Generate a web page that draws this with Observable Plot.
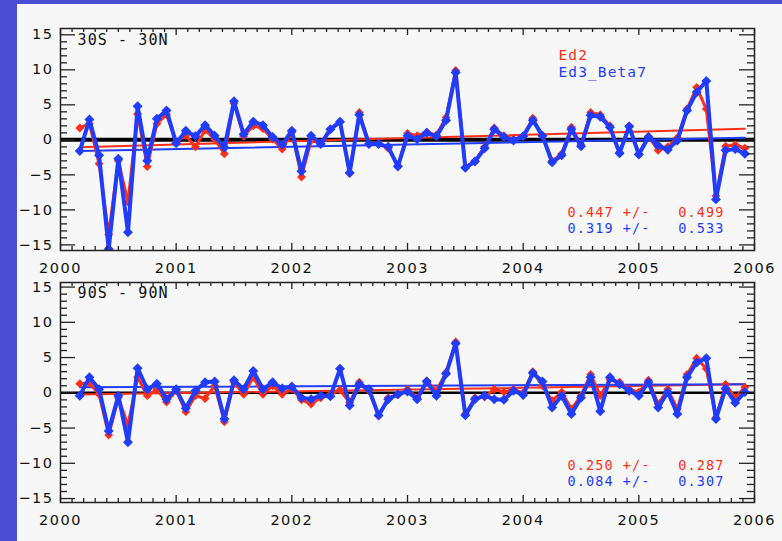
<!DOCTYPE html>
<html><head><meta charset="utf-8">
<script src="https://cdn.jsdelivr.net/npm/d3@7"></script>
<script src="https://cdn.jsdelivr.net/npm/@observablehq/plot@0.6"></script>
<style>
html,body{margin:0;padding:0;background:#fff;}
#wrap{position:relative;width:782px;height:541px;background:#4a4ed4;overflow:hidden;}
#panel{position:absolute;left:17px;top:4px;width:765px;height:537px;background:#f7f7f7;}
#top,#bot{position:absolute;left:0;}
#top{top:0px}
#bot{top:270px}
svg text{white-space:pre;}
</style></head><body>
<div id="wrap"><div id="panel"></div><div id="top"></div><div id="bot"></div></div>
<script>
// Monthly time axis: March 2000 .. December 2005 (decimal years, start of month)
const months = d3.range(2, 72).map(k => 2000 + k / 12);

// 30S - 30N anomalies
const trop_Ed2 = [1.7, 2.3, -3.4, -13.5, -3.0, -8.9, 3.7, -3.8, 2.3, 3.6,
  -0.3, 0.6, -1.0, 1.4, 0.1, -2.0, 5.2, 0.5, 2.0, 1.6,
  0.1, -1.3, 1.1, -5.3, -0.1, -0.5, 1.5, 2.5, -4.8, 3.9,
  -0.6, -0.5, -1.2, -3.7, 0.9, 0.6, 1.1, 0.7, 3.2, 9.9,
  -3.9, -3.0, -1.0, 1.7, 0.6, 0.1, 0.5, 3.1, 0.6, -3.0,
  -2.0, 1.8, -0.7, 3.9, 3.6, 2.0, -1.8, 2.0, -2.0, 0.5,
  -1.5, -1.0, 0.3, 4.4, 7.5, 4.4, -8.0, -0.9, -0.7, -1.2];
const trop_Ed3 = [-1.6, 2.9, -2.2, -15.6, -2.7, -13.2, 4.8, -3.0, 3.0, 4.2,
  -0.5, 1.3, 0.5, 2.1, 0.6, -1.1, 5.5, 0.8, 2.6, 2.1,
  0.4, -0.7, 1.3, -4.5, 0.6, -0.6, 1.5, 2.6, -4.7, 3.6,
  -0.6, -0.6, -1.0, -3.8, 0.6, 0.1, 1.0, 0.5, 2.8, 9.6,
  -4.0, -3.1, -1.2, 1.5, 0.4, -0.1, 0.5, 2.8, 0.6, -3.2,
  -2.2, 1.5, -0.9, 3.5, 3.3, 1.8, -1.9, 1.9, -2.1, 0.4,
  -0.8, -1.4, -0.1, 4.2, 6.8, 8.4, -8.5, -1.5, -1.3, -2.0];

// 90S - 90N anomalies
const glob_Ed2 = [1.3, 1.4, -0.2, -6.0, -0.7, -4.6, 2.2, -0.4, 0.5, -1.3,
  0.3, -2.7, -0.4, -0.8, 1.0, -4.1, 1.5, -0.2, 2.2, -0.2,
  1.0, -0.2, 0.6, -1.0, -1.6, -0.7, -0.2, 0.4, -1.4, 1.5,
  0.3, -3.3, -0.7, -0.3, 0.5, -0.7, 1.7, 0.3, 2.9, 7.2,
  -3.0, -0.7, -0.6, 0.5, 0.1, 0.5, 0.0, 3.0, 1.0, -1.1,
  0.1, -2.3, -0.4, 2.6, -0.4, 1.9, 1.5, 0.5, 0.1, 1.8,
  -1.6, 0.5, -2.3, 2.6, 4.9, 3.4, -3.5, 1.2, -0.7, 0.8];
const glob_Ed3 = [-0.4, 2.2, 0.5, -5.4, -0.4, -7.0, 3.5, 0.5, 1.3, -0.9,
  0.5, -2.2, 0.3, 1.5, 1.6, -3.7, 1.8, 0.5, 3.1, 0.5,
  1.5, 0.6, 0.9, -0.7, -0.9, -0.4, -0.5, 3.4, -1.8, 1.2,
  0.5, -3.2, -0.9, -0.2, 0.2, -0.9, 1.6, -0.4, 2.7, 7.0,
  -3.2, -0.9, -0.4, -0.9, -1.0, 0.3, -0.3, 2.8, 1.6, -2.1,
  -0.4, -3.0, -0.7, 2.2, -2.6, 2.2, 1.2, 0.3, -0.4, 1.5,
  -2.1, 0.1, -3.0, 2.2, 4.3, 4.9, -3.7, 0.6, -1.4, 0.1];

// Linear trend lines (end points)
const trendX = [2000 + 2 / 12, 2000 + 71 / 12];
const trop_trend_Ed2 = [-1.05, 1.6];
const trop_trend_Ed3 = [-1.6, 0.3];
const glob_trend_Ed2 = [-0.25, 1.2];
const glob_trend_Ed3 = [0.8, 1.2];

// Trend statistics text
const trop_stats = ["0.447 +/-   0.499", "0.319 +/-   0.533"];
const glob_stats = ["0.250 +/-   0.287", "0.084 +/-   0.307"];
const seriesNames = ["Ed2", "Ed3_Beta7"];

// Axis ticks
const xTicks = [2000, 2001, 2002, 2003, 2004, 2005, 2006];
const yTicks = [-15, -10, -5, 0, 5, 10, 15];
const xMinor = d3.range(1, 60).map(i => 2000 + i / 10).filter(v => Math.abs(v - Math.round(v)) > 1e-6);
const yMinor = d3.range(-15, 16).filter(v => v % 5 !== 0);

const RED = "#ff2f17";
const BLUE = "#1f3cff";
const W = 782, ML = 60, MR = 28;
const FW = W - ML - MR;
const MONO = "DejaVu Sans Mono";

function panel({ed2, ed3, tr2, tr3, yDomain, height, mt, mb, zeroW, label, stats, legend, statDy, labelDy}) {
  const fh = height - mt - mb;
  const rows = months.map((t, i) => ({t, a: ed2[i], b: ed3[i]}));
  const trows = trendX.map((t, i) => ({t, a: tr2[i], b: tr3[i]}));
  const tk = {stroke: "#222", strokeWidth: 1.3};
  const marks = [
    Plot.ruleY([0], {stroke: "#000", strokeWidth: zeroW}),
    Plot.line(trows, {x: "t", y: "a", stroke: RED, strokeWidth: 2}),
    Plot.line(trows, {x: "t", y: "b", stroke: BLUE, strokeWidth: 2}),
    Plot.line(rows, {x: "t", y: "a", stroke: RED, strokeWidth: 3, clip: true}),
    Plot.dot(rows, {x: "t", y: "a", fill: RED, r: 4, symbol: "diamond2", clip: true}),
    Plot.line(rows, {x: "t", y: "b", stroke: BLUE, strokeWidth: 4, clip: true}),
    Plot.dot(rows, {x: "t", y: "b", fill: BLUE, r: 4.5, symbol: "diamond2", clip: true}),
    // inward ticks on all four sides
    Plot.tickY(yTicks, {y: d => d, insetRight: FW - 15, ...tk}),
    Plot.tickY(yTicks, {y: d => d, insetLeft: FW - 15, ...tk}),
    Plot.tickY(yMinor, {y: d => d, insetRight: FW - 7, ...tk}),
    Plot.tickY(yMinor, {y: d => d, insetLeft: FW - 7, ...tk}),
    Plot.tickX(xTicks, {x: d => d, insetTop: fh - 7, ...tk}),
    Plot.tickX(xTicks, {x: d => d, insetBottom: fh - 7, ...tk}),
    Plot.tickX(xMinor, {x: d => d, insetTop: fh - 4, ...tk}),
    Plot.tickX(xMinor, {x: d => d, insetBottom: fh - 4, ...tk}),
    Plot.frame({stroke: "#222", strokeWidth: 1.5}),
    Plot.axisY({ticks: yTicks, tickSize: 0, tickPadding: 7, label: null}),
    Plot.axisX({ticks: xTicks, tickSize: 0, tickPadding: 12, label: null, tickFormat: d => String(d)}),
    Plot.text([label], {frameAnchor: "top-left", dx: 17, dy: labelDy, lineAnchor: "top", textAnchor: "start", fill: "#111", fontFamily: MONO, fontSize: 15}),
    Plot.text([stats[0]], {frameAnchor: "top-left", dx: 507, dy: statDy, lineAnchor: "top", textAnchor: "start", fill: RED, fontFamily: MONO, fontSize: 13.5}),
    Plot.text([stats[1]], {frameAnchor: "top-left", dx: 507, dy: statDy + 16, lineAnchor: "top", textAnchor: "start", fill: BLUE, fontFamily: MONO, fontSize: 13.5})
  ];
  if (legend) {
    marks.push(Plot.text([seriesNames[0]], {frameAnchor: "top-left", dx: 498, dy: 21, lineAnchor: "top", textAnchor: "start", fill: RED, fontFamily: MONO, fontSize: 14.5}));
    marks.push(Plot.text([seriesNames[1]], {frameAnchor: "top-left", dx: 498, dy: 38, lineAnchor: "top", textAnchor: "start", fill: BLUE, fontFamily: MONO, fontSize: 14.5}));
  }
  const svg = Plot.plot({
    width: W, height,
    marginLeft: ML, marginRight: MR, marginTop: mt, marginBottom: mb,
    x: {domain: [2000, 2006]},
    y: {domain: yDomain},
    style: {background: "transparent", fontFamily: "DejaVu Sans", fontSize: "14.5px", color: "#111", overflow: "visible"},
    marks
  });
  d3.select(svg).selectAll('g[aria-label$="tick label"] text').style("letter-spacing", "1.5px");
  d3.select(svg).selectAll('g[aria-label="text"] text').style("letter-spacing", "1.1px");
  return svg;
}

document.getElementById("top").append(panel({
  ed2: trop_Ed2, ed3: trop_Ed3, tr2: trop_trend_Ed2, tr3: trop_trend_Ed3,
  yDomain: [-15.8, 15.9], height: 270, mt: 28, mb: 20, zeroW: 4,
  label: "30S - 30N", stats: trop_stats, legend: true, statDy: 179, labelDy: 6
}));
document.getElementById("bot").append(panel({
  ed2: glob_Ed2, ed3: glob_Ed3, tr2: glob_trend_Ed2, tr3: glob_trend_Ed3,
  yDomain: [-15.56, 15.65], height: 271, mt: 12, mb: 39, zeroW: 2.6,
  label: "90S - 90N", stats: glob_stats, legend: false, statDy: 178, labelDy: 5
}));
</script>
</body></html>
